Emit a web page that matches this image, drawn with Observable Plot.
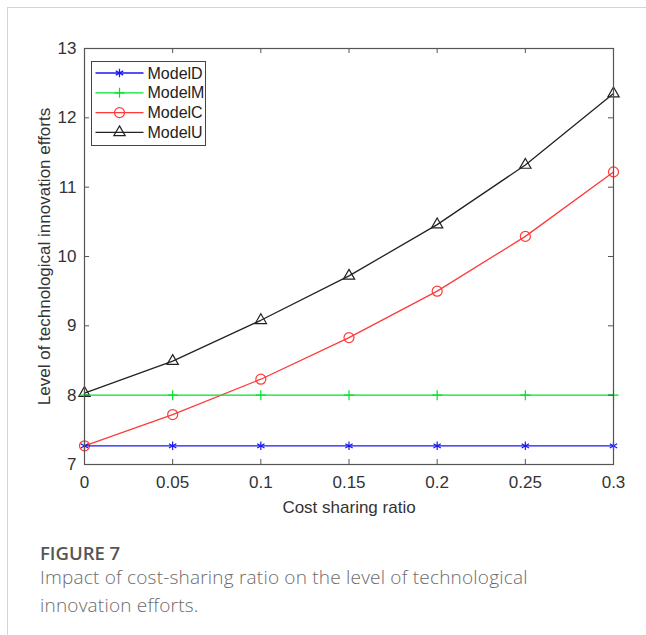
<!DOCTYPE html>
<html><head><meta charset="utf-8">
<script src="https://cdn.jsdelivr.net/npm/d3@7"></script>
<script src="https://cdn.jsdelivr.net/npm/@observablehq/plot@0.6"></script>
<style>
body{margin:0;background:#fff;width:646px;height:635px;overflow:hidden;position:relative;font-family:"Liberation Sans",Arial,sans-serif}
#card{position:absolute;left:7px;top:7px;width:700px;height:700px;border-left:1px solid #d4d4d4;border-top:1px solid #d4d4d4}
#chart{position:absolute;left:0;top:0}
.figlabel{position:absolute;left:40px;top:539px;font:600 18.5px/28px "Open Sans",Lato,sans-serif;color:#565656;white-space:nowrap}
.figcap{position:absolute;left:40px;top:563px;font:300 19px/28px "Open Sans",Lato,sans-serif;letter-spacing:0.2px;color:#6b6b6b;white-space:nowrap}
</style></head>
<body>
<div id="card"></div>
<div id="chart"></div>
<div class="figlabel">FIGURE 7</div>
<div class="figcap">Impact of cost-sharing ratio on the level of technological<br>innovation efforts.</div>
<script>
// ---- data ----
const xValues = [0, 0.05, 0.1, 0.15, 0.2, 0.25, 0.3];
const xTickLabels = ["0", "0.05", "0.1", "0.15", "0.2", "0.25", "0.3"];
const yTicks = [7, 8, 9, 10, 11, 12, 13];
const yTickLabels = ["7", "8", "9", "10", "11", "12", "13"];
const seriesNames = ["ModelD", "ModelM", "ModelC", "ModelU"];
const modelD = [7.27, 7.27, 7.27, 7.27, 7.27, 7.27, 7.27];
const modelM = [8.0, 8.0, 8.0, 8.0, 8.0, 8.0, 8.0];
const modelC = [7.27, 7.72, 8.23, 8.83, 9.50, 10.29, 11.22];
const modelU = [8.03, 8.49, 9.08, 9.72, 10.46, 11.32, 12.35];
const seriesValues = [modelD, modelM, modelC, modelU];
const seriesColors = ["#1818f5", "#00e22a", "#ff3a3a", "#222222"];
const seriesSymbols = ["asterisk", "plus", "circle", "triangle"];
const seriesR = [4, 3.3, 5, 4.2];
const xLabel = "Cost sharing ratio";
const yLabel = "Level of technological innovation efforts";

// ---- build ----
const W = 646, H = 516, mL = 84, mR = 33, mT = 48, mB = 52;
const plotW = W - mL - mR, plotH = H - mT - mB;
const rows = [];
seriesNames.forEach((name, k) => xValues.forEach((x, i) => rows.push({series: name, k, x, y: seriesValues[k][i]})));

const drawOrder = [3, 2, 1, 0];
const seriesMarks = drawOrder.flatMap(k => {
  const data = rows.filter(d => d.k === k);
  return [
    Plot.line(data, {x: "x", y: "y", stroke: seriesColors[k], strokeWidth: 1.3}),
    Plot.dot(data, {x: "x", y: "y", symbol: () => seriesSymbols[k], r: seriesR[k], stroke: seriesColors[k], fill: "none", strokeWidth: 1.2})
  ];
});

const axisColor = "#555";
const chart = Plot.plot({
  width: W, height: H,
  marginLeft: mL, marginRight: mR, marginTop: mT, marginBottom: mB,
  style: {fontFamily: '"Liberation Sans", Arial, sans-serif', color: "#333", background: "transparent"},
  x: {domain: [0, 0.3]},
  y: {domain: [7, 13]},
  symbol: {type: "identity"},
  marks: [
    Plot.axisX(xValues, {tickSize: 0, tickPadding: 11, fontSize: 17, fontWeight: "normal", tickFormat: (d, i) => xTickLabels[i],
      label: xLabel, labelAnchor: "center", labelOffset: 48, labelArrow: "none"}),
    Plot.axisY(yTicks, {tickSize: 0, tickPadding: 8, fontSize: 17, fontWeight: "normal", tickFormat: (d, i) => yTickLabels[i],
      label: yLabel, labelAnchor: "center", labelOffset: 47, labelArrow: "none"}),
    ...seriesMarks,
    Plot.tickX(xValues, {x: d => d, insetTop: plotH - 5, stroke: axisColor}),
    Plot.tickX(xValues, {x: d => d, insetBottom: plotH - 5, stroke: axisColor}),
    Plot.tickY(yTicks, {y: d => d, insetRight: plotW - 5, stroke: axisColor}),
    Plot.tickY(yTicks, {y: d => d, insetLeft: plotW - 5, stroke: axisColor}),
    Plot.frame({stroke: axisColor, strokeWidth: 1.2})
  ]
});
document.getElementById("chart").appendChild(chart);

// ---- legend ----
const svg = d3.select(chart);
const lg = svg.append("g").attr("transform", "translate(91.5,61.5)");
lg.append("rect").attr("width", 114).attr("height", 84).attr("fill", "#fff").attr("stroke", "#444").attr("stroke-width", 1);
const d3sym = {asterisk: d3.symbolAsterisk, plus: d3.symbolPlus, circle: d3.symbolCircle, triangle: d3.symbolTriangle};
seriesNames.forEach((name, k) => {
  const cy = 11.5 + k * 19.8;
  lg.append("line").attr("x1", 4).attr("x2", 52).attr("y1", cy).attr("y2", cy)
    .attr("stroke", seriesColors[k]).attr("stroke-width", 1.3);
  lg.append("path").attr("d", d3.symbol(d3sym[seriesSymbols[k]], Math.PI * seriesR[k] * seriesR[k])())
    .attr("transform", `translate(28,${cy})`).attr("fill", "none")
    .attr("stroke", seriesColors[k]).attr("stroke-width", 1.2);
  lg.append("text").attr("x", 56).attr("y", cy).attr("dy", "0.35em").attr("text-anchor", "start")
    .attr("font-size", 16).attr("fill", "#222").text(name);
});
</script>
</body></html>
